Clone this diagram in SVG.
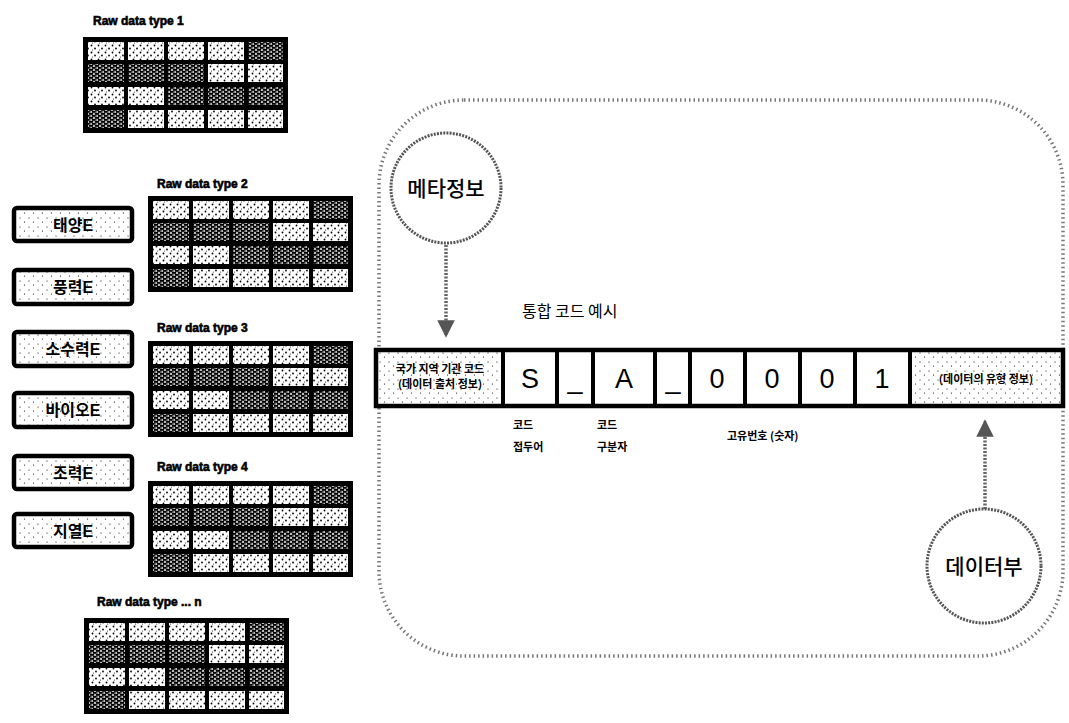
<svg xmlns="http://www.w3.org/2000/svg" width="1069" height="723" viewBox="0 0 1069 723">
<defs>
<pattern id="lt" width="7" height="7" patternUnits="userSpaceOnUse">
<rect width="7" height="7" fill="#fff"/>
<circle cx="1.5" cy="1.5" r="0.9" fill="#000"/>
<circle cx="5" cy="4.5" r="0.9" fill="#000"/>
<circle cx="2.5" cy="6" r="0.6" fill="#333"/>
</pattern>
<pattern id="dk" width="6" height="4" patternUnits="userSpaceOnUse">
<rect width="6" height="4" fill="#bbb"/>
<rect x="0" y="0" width="4" height="1.8" fill="#000"/>
<rect x="3" y="2" width="3" height="1.8" fill="#000"/>
<rect x="0" y="2.3" width="1.5" height="1.2" fill="#000"/>
</pattern>
<pattern id="sp" width="9" height="9" patternUnits="userSpaceOnUse">
<rect width="9" height="9" fill="#fff"/>
<circle cx="2" cy="2" r="0.6" fill="#000"/>
<circle cx="6.5" cy="6" r="0.6" fill="#000"/>
</pattern>
<marker id="ah" viewBox="0 0 10 10" refX="9" refY="5" markerWidth="5" markerHeight="5" orient="auto">
<path d="M0,0 L10,5 L0,10 z" fill="#555"/>
</marker>
<g id="grid">
<rect x="0" y="0" width="205" height="96" fill="#000"/>
<rect x="5" y="5" width="36" height="18" fill="url(#lt)"/>
<rect x="45" y="5" width="36" height="18" fill="url(#lt)"/>
<rect x="85" y="5" width="36" height="18" fill="url(#lt)"/>
<rect x="125" y="5" width="36" height="18" fill="url(#lt)"/>
<rect x="165" y="5" width="35" height="18" fill="url(#dk)"/>
<rect x="5" y="27" width="36" height="18" fill="url(#dk)"/>
<rect x="45" y="27" width="36" height="18" fill="url(#dk)"/>
<rect x="85" y="27" width="36" height="18" fill="url(#dk)"/>
<rect x="125" y="27" width="36" height="18" fill="url(#lt)"/>
<rect x="165" y="27" width="35" height="18" fill="url(#lt)"/>
<rect x="5" y="50" width="36" height="18" fill="url(#lt)"/>
<rect x="45" y="50" width="36" height="18" fill="url(#lt)"/>
<rect x="85" y="50" width="36" height="18" fill="url(#dk)"/>
<rect x="125" y="50" width="36" height="18" fill="url(#dk)"/>
<rect x="165" y="50" width="35" height="18" fill="url(#dk)"/>
<rect x="5" y="73" width="36" height="18" fill="url(#dk)"/>
<rect x="45" y="73" width="36" height="18" fill="url(#lt)"/>
<rect x="85" y="73" width="36" height="18" fill="url(#lt)"/>
<rect x="125" y="73" width="36" height="18" fill="url(#lt)"/>
<rect x="165" y="73" width="35" height="18" fill="url(#lt)"/>
</g>
</defs>
<style>
.ttl{font-family:"Liberation Sans",sans-serif;font-weight:900;font-size:12px;fill:#000;stroke:#000;stroke-width:0.6}
.src rect{fill:url(#sp);stroke:#000;stroke-width:4.5}
.src text{font-family:"Liberation Sans","Noto Sans CJK KR",sans-serif;font-weight:bold;font-size:16px;fill:#000;text-anchor:middle}
.ch{font-family:"Liberation Sans",sans-serif;font-size:27px;fill:#000;text-anchor:middle}
.kr{font-family:"Noto Sans CJK KR",sans-serif;fill:#000}
.lbl{font-family:"Noto Sans CJK KR",sans-serif;font-weight:bold;font-size:11px;fill:#000}
.circ{fill:#fff;stroke:#555;stroke-width:3;stroke-dasharray:2 1.2}
.con{stroke:#666;stroke-width:3.5;stroke-dasharray:2 1.5;fill:none}
</style>
<rect width="1069" height="723" fill="#fff"/>

<g id="container">
<rect x="379" y="100" width="684" height="556" rx="85" fill="none" stroke="#777" stroke-width="3.5" stroke-dasharray="1.5 3"/>
</g>

<g id="tables">
<g id="t1"><text class="ttl" x="93" y="25">Raw data type 1</text><use href="#grid" x="83" y="37"/></g>
<g id="t2"><text class="ttl" x="157" y="188">Raw data type 2</text><use href="#grid" x="148" y="196"/></g>
<g id="t3"><text class="ttl" x="157" y="332">Raw data type 3</text><use href="#grid" x="148" y="341"/></g>
<g id="t4"><text class="ttl" x="157" y="471">Raw data type 4</text><use href="#grid" x="148" y="481"/></g>
<g id="tn"><text class="ttl" x="97" y="606">Raw data type ... n</text><use href="#grid" x="84" y="618"/></g>
</g>

<g id="sources" class="src">
<g id="s1"><rect x="14" y="208" width="118" height="33" rx="3"/><text x="73" y="231">태양E</text></g>
<g id="s2"><rect x="14" y="270" width="118" height="34" rx="3"/><text x="73" y="293">풍력E</text></g>
<g id="s3"><rect x="14" y="332" width="118" height="34" rx="3"/><text x="73" y="355">소수력E</text></g>
<g id="s4"><rect x="14" y="393" width="118" height="34" rx="3"/><text x="73" y="416">바이오E</text></g>
<g id="s5"><rect x="14" y="456" width="118" height="33" rx="3"/><text x="73" y="479">조력E</text></g>
<g id="s6"><rect x="14" y="514" width="118" height="33" rx="3"/><text x="73" y="537">지열E</text></g>
</g>

<g id="connectors">
<line class="con" x1="446" y1="245" x2="446" y2="336" marker-end="url(#ah)"/>
<line class="con" x1="985" y1="509" x2="985" y2="421" marker-end="url(#ah)"/>
</g>

<g id="meta">
<circle class="circ" cx="446" cy="188" r="55"/>
<text class="kr" x="446" y="196" font-size="21" font-weight="500" text-anchor="middle">메타정보</text>
</g>

<g id="data">
<circle class="circ" cx="984" cy="566" r="57"/>
<text class="kr" x="984" y="574" font-size="21" font-weight="500" text-anchor="middle">데이터부</text>
</g>

<text id="title" class="kr" x="522" y="317" font-size="16" fill="#333">통합 코드 예시</text>

<g id="codebar">
<rect x="376" y="350" width="127" height="56" fill="url(#sp)"/>
<rect x="910" y="350" width="153" height="56" fill="url(#sp)"/>
<rect x="376" y="350" width="687" height="56" fill="none" stroke="#000" stroke-width="4.5"/>
<g stroke="#000" stroke-width="4">
<line x1="503" y1="350" x2="503" y2="406"/>
<line x1="557" y1="350" x2="557" y2="406"/>
<line x1="593" y1="350" x2="593" y2="406"/>
<line x1="655" y1="350" x2="655" y2="406"/>
<line x1="690" y1="350" x2="690" y2="406"/>
<line x1="745" y1="350" x2="745" y2="406"/>
<line x1="800" y1="350" x2="800" y2="406"/>
<line x1="855" y1="350" x2="855" y2="406"/>
<line x1="910" y1="350" x2="910" y2="406"/>
</g>
<text class="lbl" x="440" y="373" text-anchor="middle" font-size="8">국가 지역 기관 코드</text>
<text class="lbl" x="440" y="388" text-anchor="middle" font-size="8">(데이터 출처 정보)</text>
<text class="lbl" x="986" y="383" text-anchor="middle" font-size="11">(데이터의 유형 정보)</text>
<text class="ch" x="530" y="388">S</text>
<text class="ch" x="575" y="388">_</text>
<text class="ch" x="624" y="388">A</text>
<text class="ch" x="673" y="388">_</text>
<text class="ch" x="717" y="388">0</text>
<text class="ch" x="772" y="388">0</text>
<text class="ch" x="827" y="388">0</text>
<text class="ch" x="882" y="388">1</text>
</g>

<g id="labels">
<text class="lbl" x="513" y="429">코드</text>
<text class="lbl" x="513" y="451">접두어</text>
<text class="lbl" x="597" y="429">코드</text>
<text class="lbl" x="597" y="451">구분자</text>
<text class="lbl" x="727" y="440">고유번호 (숫자)</text>
</g>
</svg>
